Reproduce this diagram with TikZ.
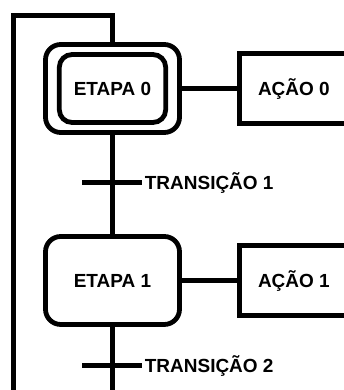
\documentclass[tikz,border=0pt]{standalone}
\usepackage{fontspec}
\setmainfont{Liberation Sans}
\usetikzlibrary{positioning}

\begin{document}
\begin{tikzpicture}[font=\bfseries\fontsize{13.5}{16}\selectfont,node distance=2.48cm and 1.39cm,line width=3.4pt,
  txt/.style={text height=9.6pt,text depth=0pt,inner sep=0pt},
  rot/.style={txt,outer sep=0pt},
  etapa/.style={draw,txt,rounded corners=0.38cm,minimum width=3.35cm,minimum height=2.2cm},
  inicial/.style={draw,txt,rounded corners=0.32cm,minimum width=2.66cm,minimum height=1.7cm},
  acao/.style={draw,txt,minimum width=2.7cm,minimum height=1.74cm},
  trans/.style={fill,inner sep=0pt,outer sep=0pt,minimum width=1.5cm,minimum height=0.14cm}]
\useasboundingbox (-2.8125,-7.5375) rectangle (5.7875,2.2125);
\clip (-2.8125,-7.5375) rectangle (5.7875,2.2125);
% etapas e acoes
\node[etapa] (etapa0) at (0,0) {};
\node[inicial] (etapa0in) at (etapa0) {ETAPA 0};
\node[acao,right=of etapa0] (acao0) {AÇÃO 0};
\node[trans,below=1.12cm of etapa0] (t1) {};
\node[rot,right=0.06cm of t1] (t1txt) {TRANSIÇÃO 1};
\node[etapa,below=of etapa0] (etapa1) {ETAPA 1};
\node[acao,right=of etapa1] (acao1) {AÇÃO 1};
\node[trans,below=0.9cm of etapa1] (t2) {};
\node[rot,right=0.06cm of t2] (t2txt) {TRANSIÇÃO 2};
% ligacoes
\coordinate (topo) at ([yshift=0.66cm]etapa0.north);
\coordinate (esq) at ([xshift=-2.48cm]topo);
\coordinate (fim) at ([yshift=-1cm]t2.south);
\draw (etapa0.east) -- (acao0.west); \draw (etapa1.east) -- (acao1.west);
\draw (etapa0.south) -- (etapa1.north); \draw (etapa1.south) -- (fim);
\draw (etapa0.north) |- (esq) -- (esq |- fim);
\end{tikzpicture}
\end{document}
